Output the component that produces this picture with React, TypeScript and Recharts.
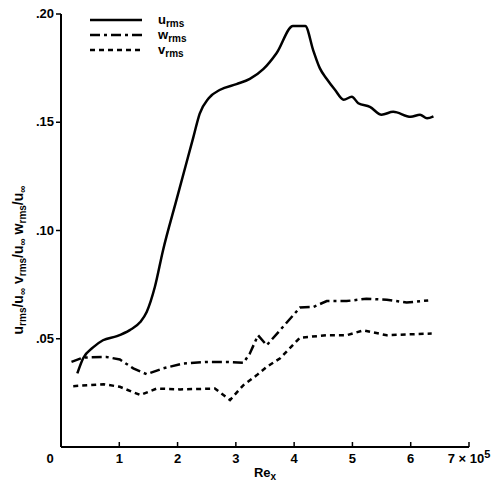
import React from "react";
import { LineChart, Line, XAxis, YAxis, Legend, Label } from "recharts";

// Re_x (x 10^5) and u_rms/u_inf
const uX = [0.28, 0.38, 0.55, 0.72, 0.96, 1.18, 1.36, 1.47, 1.61, 1.75, 1.98, 2.27, 2.38, 2.53, 2.73, 3.01, 3.24, 3.47, 3.70, 3.98, 4.19, 4.33, 4.44, 4.56, 4.70, 4.85, 4.99, 5.10, 5.30, 5.50, 5.70, 6.00, 6.16, 6.28, 6.39];
const uY = [0.034, 0.041, 0.046, 0.0493, 0.0512, 0.054, 0.0577, 0.0624, 0.0739, 0.0908, 0.114, 0.143, 0.154, 0.161, 0.165, 0.1676, 0.170, 0.1745, 0.182, 0.1945, 0.1945, 0.183, 0.175, 0.170, 0.165, 0.1604, 0.1618, 0.1588, 0.1571, 0.1535, 0.1548, 0.1525, 0.1535, 0.1518, 0.1527];

const wX = [0.18, 0.38, 0.78, 1.01, 1.24, 1.47, 1.75, 2.10, 2.50, 2.84, 3.13, 3.24, 3.38, 3.53, 3.76, 4.10, 4.33, 4.56, 4.90, 5.24, 5.59, 5.93, 6.30];
const wY = [0.0393, 0.0413, 0.0416, 0.0404, 0.0363, 0.0336, 0.0363, 0.0386, 0.0393, 0.0393, 0.0389, 0.0432, 0.0516, 0.047, 0.054, 0.0644, 0.0647, 0.0674, 0.0674, 0.0685, 0.068, 0.0667, 0.0677];

const vX = [0.21, 0.73, 1.01, 1.36, 1.64, 2.04, 2.64, 2.90, 3.13, 3.36, 3.53, 3.76, 4.10, 4.56, 4.90, 5.19, 5.59, 5.93, 6.36];
const vY = [0.0281, 0.029, 0.0278, 0.024, 0.027, 0.0266, 0.027, 0.0217, 0.0286, 0.0332, 0.037, 0.041, 0.0505, 0.0516, 0.0516, 0.0539, 0.0516, 0.052, 0.0524];

const xTicks = [0, 1, 2, 3, 4, 5, 6, 7];
const yTicks = [0.05, 0.1, 0.15, 0.2];
const yTickLabels = [".05", ".10", ".15", ".20"];

const seriesNames = ["u", "w", "v"];

const uData = uX.map((x, i) => ({ x, y: uY[i] }));
const wData = wX.map((x, i) => ({ x, y: wY[i] }));
const vData = vX.map((x, i) => ({ x, y: vY[i] }));

const FONT = "'Liberation Sans', Arial, sans-serif";
const W_DASH = "10 4 3 4";
const V_DASH = "5 4";

const XTick = (props: any) => {
  const { x, y, payload } = props;
  const v = payload.value;
  if (v === 0) {
    return (
      <text x={x - 11} y={y + 16} textAnchor="middle" fontFamily={FONT} fontWeight="bold" fontSize={13} fill="#000">
        0
      </text>
    );
  }
  return (
    <g>
      <line x1={x} y1={y} x2={x} y2={y - 5} stroke="#000" strokeWidth={1.5} />
      <text x={x} y={y + 16} textAnchor="middle" fontFamily={FONT} fontWeight="bold" fontSize={13} fill="#000">
        {v === 7 ? (
          <>
            {"7 × 10"}
            <tspan fontSize={11} dy={-5}>5</tspan>
          </>
        ) : (
          String(v)
        )}
      </text>
    </g>
  );
};

const YTick = (props: any) => {
  const { x, y, payload } = props;
  const idx = yTicks.indexOf(payload.value);
  return (
    <text x={x} y={y} dy={4} textAnchor="end" fontFamily={FONT} fontWeight="bold" fontSize={13} fill="#000">
      {idx >= 0 ? yTickLabels[idx] : ""}
    </text>
  );
};

const LegendContent = () => {
  const rows = [
    { name: seriesNames[0], dash: undefined },
    { name: seriesNames[1], dash: W_DASH },
    { name: seriesNames[2], dash: V_DASH },
  ];
  return (
    <svg width={130} height={50} style={{ display: "block" }}>
      {rows.map((r, i) => (
        <g key={r.name}>
          <line x1={2} x2={54} y1={8 + i * 15} y2={8 + i * 15} stroke="#000" strokeWidth={2.5} strokeDasharray={r.dash} />
          <text x={70} y={12 + i * 15} fontFamily={FONT} fontWeight="bold" fontSize={13} fill="#000">
            {r.name}
            <tspan fontSize={10} dy={3}>rms</tspan>
          </text>
        </g>
      ))}
    </svg>
  );
};

const XLabel = (props: any) => {
  const { viewBox } = props;
  const cx = viewBox.x + viewBox.width / 2;
  return (
    <text x={cx} y={viewBox.y + 30} textAnchor="middle" fontFamily={FONT} fontWeight="bold" fontSize={13} fill="#000">
      Re<tspan fontSize={10} dy={3}>x</tspan>
    </text>
  );
};

const YLabel = () => {
  const cy = 258;
  const cx = 15;
  const sub = (s: string) => (
    <tspan fontSize={10} dy={3}>{s}</tspan>
  );
  const up = (s: string) => <tspan dy={-3}>{s}</tspan>;
  return (
    <text x={cx} y={cy} transform={`rotate(-90 ${cx} ${cy})`} textAnchor="middle" fontFamily={FONT} fontWeight="bold" fontSize={14} fill="#000">
      u{sub("rms")}{up("/u")}{sub("∞")}{up(" v")}{sub("rms")}{up("/u")}{sub("∞")}{up(" w")}{sub("rms")}{up("/u")}{sub("∞")}
    </text>
  );
};

export default function App() {
  return (
    <div style={{ position: "relative", width: 493, height: 489, marginTop: -6, background: "#fff" }}>
      <LineChart width={493} height={489} margin={{ top: 12, right: 32, bottom: 14, left: 0 }}>
        <XAxis
          type="number"
          dataKey="x"
          domain={[0, 7]}
          ticks={xTicks}
          interval={0}
          height={30}
          allowDataOverflow
          tickLine={false}
          tickSize={0}
          tickMargin={0}
          tick={<XTick />}
          axisLine={{ stroke: "#000", strokeWidth: 2 }}
        >
          <Label content={<XLabel />} position="bottom" />
        </XAxis>
        <YAxis
          type="number"
          dataKey="y"
          domain={[0, 0.2]}
          ticks={yTicks}
          interval={0}
          width={53}
          tickSize={5}
          tickMargin={2}
          tick={<YTick />}
          tickLine={{ stroke: "#000", strokeWidth: 1.5 }}
          axisLine={{ stroke: "#000", strokeWidth: 2 }}
        >
          <Label content={<YLabel />} position="left" />
        </YAxis>
        <Legend
          layout="vertical"
          align="center"
          verticalAlign="middle"
          content={<LegendContent />}
          wrapperStyle={{ position: "absolute", top: 10, left: 80, width: 130, height: 50 }}
        />
        <Line data={uData} dataKey="y" name="u" type="monotone" stroke="#000" strokeWidth={2.5} dot={false} isAnimationActive={false} />
        <Line data={wData} dataKey="y" name="w" type="linear" stroke="#000" strokeWidth={2.5} strokeDasharray={W_DASH} dot={false} isAnimationActive={false} />
        <Line data={vData} dataKey="y" name="v" type="linear" stroke="#000" strokeWidth={2.5} strokeDasharray={V_DASH} dot={false} isAnimationActive={false} />
      </LineChart>
    </div>
  );
}
